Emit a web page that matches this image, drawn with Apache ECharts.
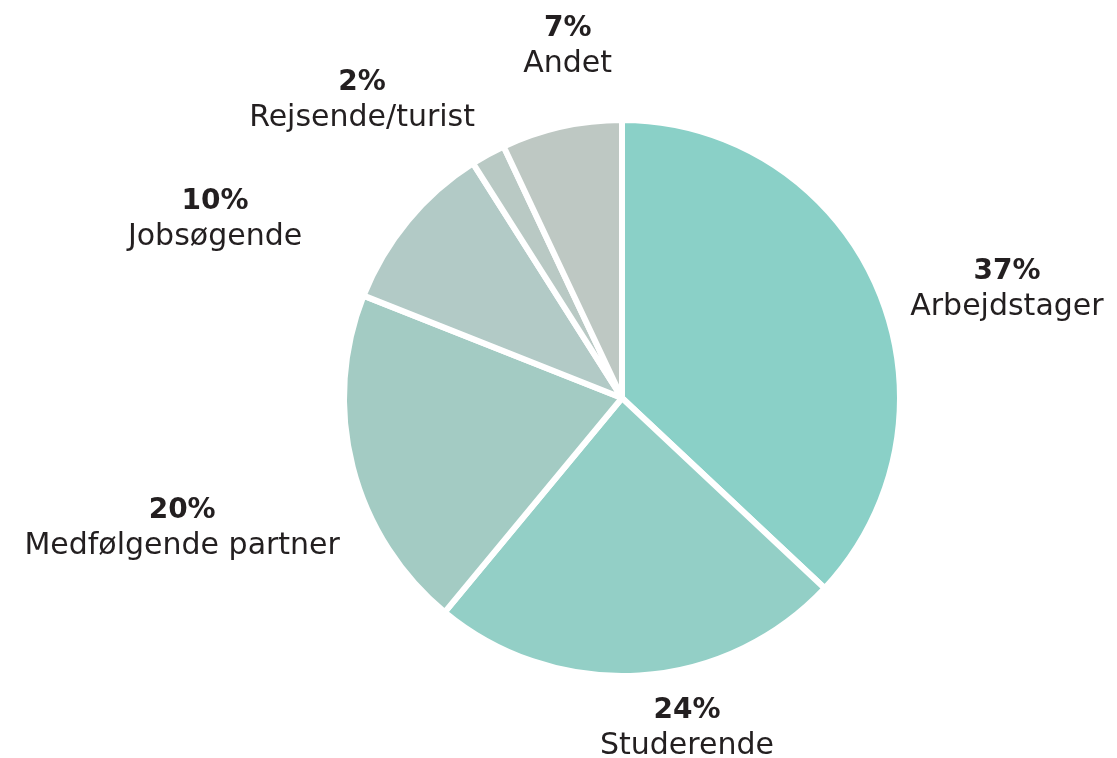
<!DOCTYPE html>
<html>
<head>
<meta charset="utf-8">
<script src="https://cdn.jsdelivr.net/npm/echarts@6/dist/echarts.min.js"></script>
<style>
  html, body { margin: 0; padding: 0; background: #fff; }
  #chart { width: 1117px; height: 758px; }
</style>
</head>
<body>
<div id="chart"></div>
<script>
var categories = ['Arbejdstager', 'Studerende', 'Medfølgende partner', 'Jobsøgende', 'Rejsende/turist', 'Andet'];
var values = [37, 24, 20, 10, 2, 7];
var colors = ['#8ad0c7', '#93cfc6', '#a3cbc3', '#b2cac6', '#b9c9c4', '#bec8c3'];

// label placement: angle (deg, counter-clockwise from 3 o'clock) and distance in radii
var labelAngle = [15.7, -78.9, 196.6, 156.4, 131.2, 98.8];
var labelDist = [1.454, 1.227, 1.669, 1.615, 1.435, 1.291];

var cx = 622, cy = 398, r = 275;

var dom = document.getElementById("chart");
var myChart = echarts.init(dom);

var pieData = categories.map(function (name, i) {
  return { name: name, value: values[i], itemStyle: { color: colors[i] } };
});

option = {
  animation: false,
  series: [
    {
      type: 'pie',
      center: [cx, cy],
      radius: r + 3,
      startAngle: 90,
      clockwise: true,
      itemStyle: {
        borderColor: '#fff',
        borderWidth: 6
      },
      label: {
        show: true,
        position: 'outside',
        overflow: 'none',
        width: 500,
        formatter: function (p) {
          return '{p|' + p.value + '%}\n{n|' + p.name + '}';
        },
        rich: {
          p: { fontFamily: 'DejaVu Sans', fontSize: 28, fontWeight: 'bold', color: '#231f20', lineHeight: 34, align: 'center' },
          n: { fontFamily: 'DejaVu Sans', fontSize: 30, color: '#231f20', lineHeight: 36, align: 'center' }
        }
      },
      labelLine: { show: false },
      labelLayout: function (params) {
        var i = params.dataIndex;
        var a = labelAngle[i] * Math.PI / 180;
        return {
          x: cx + Math.cos(a) * r * labelDist[i],
          y: cy - Math.sin(a) * r * labelDist[i],
          align: 'center',
          verticalAlign: 'middle'
        };
      },
      emphasis: { disabled: true },
      data: pieData
    }
  ]
};

if (option && typeof option === "object") {
  myChart.setOption(option, true);
}
</script>
</body>
</html>
